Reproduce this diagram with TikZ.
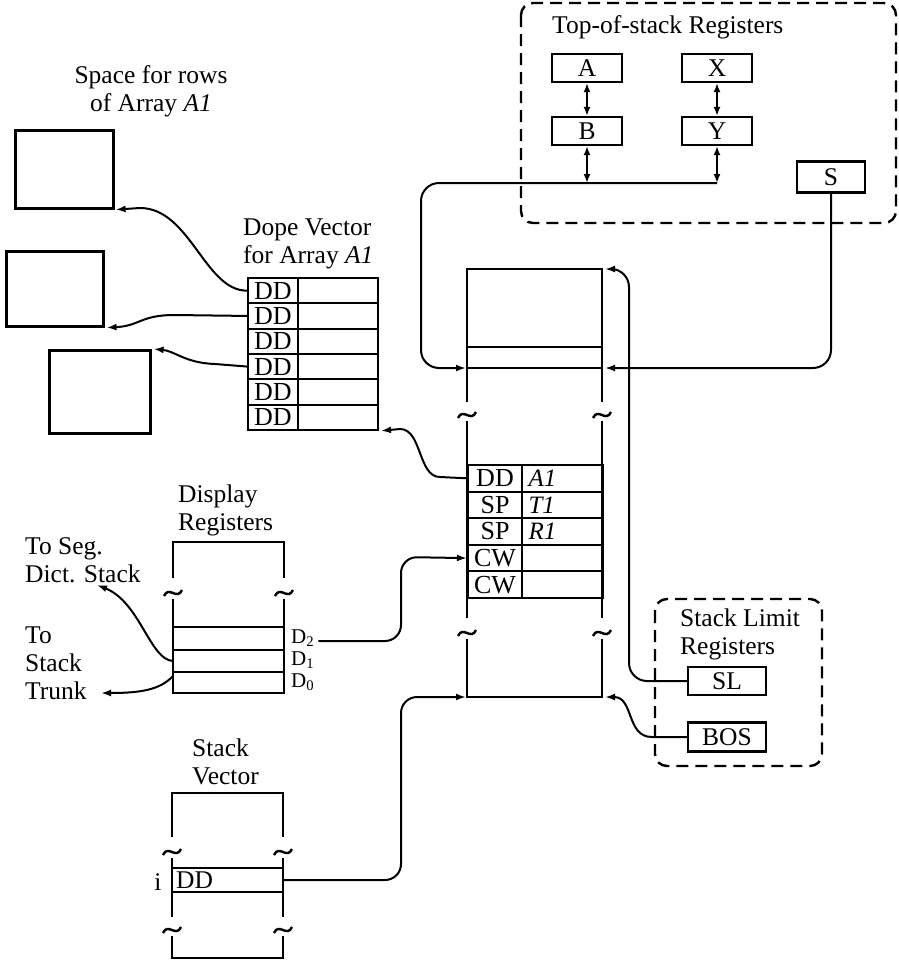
\documentclass[tikz,border=0pt]{standalone}
\usepackage{fontspec}
\setmainfont{Liberation Serif}
\usepackage{tikz}
\usetikzlibrary{arrows.meta,positioning,calc}

\begin{document}
\begin{tikzpicture}[x=1pt,y=-1pt,
  font=\fontsize{25.5}{28}\selectfont,
  reg/.style={draw, line width=2.2pt, inner sep=0pt, minimum width=70pt, minimum height=28pt},
  grp/.style={draw, dash pattern=on 12pt off 7pt, line width=2.4pt, rounded corners=12pt},
  wall/.style={line width=2.6pt},
  slot/.style={draw, line width=2pt, inner sep=0pt, anchor=north west, font=\fontsize{26}{26}\selectfont},
  link/.style={line width=2pt, -{Latex[length=10pt,width=7pt]}},
  both/.style={line width=2pt, {Latex[length=9pt,width=7pt]}-{Latex[length=9pt,width=7pt]}},
  lbl/.style={inner sep=0pt, align=left, anchor=west},
  dreg/.style={inner sep=0pt, anchor=west, font=\fontsize{21}{22}\selectfont},
  brk/.pic={\draw[line width=2.4pt] (-9,3) .. controls (-4,-8) and (4,8) .. (9,-3);}]

\useasboundingbox (0,0) rectangle (898,962);

% ===== top-of-stack registers =====
\draw[grp] (521,3) rectangle (896,223);
\node[inner sep=0pt, anchor=base west] (tosT) at (552,33) {Top-of-stack Registers};
\node[reg] (A) at (587,68) {A};
\node[reg] (X) at (717,68) {X};
\node[reg] (B) at (587,131) {B};
\node[reg] (Y) at (717,131) {Y};
\node[reg, minimum width=68pt, minimum height=31pt] (S) at (831,177) {S};
\coordinate (bus) at (587,183);
\draw[both] (A) -- (B);
\draw[both] (X) -- (Y);
\draw[both] (B.south) -- (B.south |- bus);
\draw[both] (Y.south) -- (Y.south |- bus);

% ===== the stack itself =====
\coordinate (topR) at (605,269);
\coordinate (slotL) at (466,368);
\coordinate (slotR) at (605,368);
\coordinate (botL) at (466,697);
\coordinate (botR) at (605,697);
\draw[wall] (467,402) -- (467,269) -- (602,269) -- (602,402);
\draw[wall] (467,347) -- (602,347);
\draw[wall] (467,368) -- (602,368);
\pic at (467,415) {brk};
\pic at (602,415) {brk};
\draw[wall] (467,421) -- (467,618);
\draw[wall] (602,421) -- (602,618);
\foreach \t/\v [count=\i] in {DD/A1,SP/T1,SP/R1,CW/,CW/} {
  \node[slot, minimum width=54pt, minimum height=26.6pt] (st\i) at (467,{464+26.6*(\i-1)}) {\t};
  \node[slot, minimum width=81pt, minimum height=26.6pt, text width=68pt, align=left, font=\fontsize{25}{26}\selectfont\itshape] (sv\i) at (521,{464+26.6*(\i-1)}) {\v};
}
\pic at (467,633) {brk};
\pic at (602,633) {brk};
\draw[wall] (467,639) -- (467,697) -- (602,697) -- (602,639);

\draw[link, rounded corners=18pt] (Y.south |- bus) -- (421,183) -- (421,368) -- (slotL);
\draw[link, rounded corners=18pt] (S.south) -- (S.south |- slotR) -- (slotR);

% ===== stack limit registers =====
\draw[grp] (655,599) rectangle (822,766);
\node[lbl] (limT) at (680,634) {Stack Limit\\Registers};
\node[reg, minimum width=78pt] (SL) at (727,681) {SL};
\node[reg, minimum width=78pt, minimum height=29pt] (BOS) at (727,737) {BOS};
\draw[link, rounded corners=18pt] (SL.west) -- (629,681) -- (629,269) -- (topR);
\draw[link] (BOS.west) -- (652,737) .. controls (626,737) and (634,697) .. (botR);

% ===== dope vector and rows =====
\node[inner sep=0pt, align=center] (rowT) at (151,91) {Space for rows\\of Array \textit{A1}};
\node[draw, wall, anchor=north west, minimum width=98pt, minimum height=78pt] (row1) at (14,129) {};
\node[draw, wall, anchor=north west, minimum width=97pt, minimum height=75pt] (row2) at (5,250) {};
\node[draw, wall, anchor=north west, minimum width=101pt, minimum height=83pt] (row3) at (48,349) {};

\node[lbl] (dopeT) at (243,244) {Dope Vector\\for Array \textit{A1}};
\foreach \i in {1,...,6} {
  \node[slot, minimum width=50pt, minimum height=25.3pt] (dv\i) at (247,{277+25.3*(\i-1)}) {DD};
  \node[slot, minimum width=80pt, minimum height=25.3pt] (dw\i) at (297,{277+25.3*(\i-1)}) {};
}
\draw[link] (dv1.west) .. controls (205,291) and (190,208) .. (140,208) -- ($(row1.south east)+(1,0)$);
\draw[link] (dv2.west) -- (175,315) .. controls (140,315) and (140,326) .. ($(row2.south east)+(2,0)$);
\draw[link] (dv4.west) -- (215,364) .. controls (185,363) and (175,351) .. ($(row3.north east)+(2,0)$);
\draw[link] (st1.west) -- (440,477) .. controls (418,477) and (422,429) .. (400,429) -- ($(dw6.south east)+(2,0)$);

% ===== display registers =====
\node[lbl] (dispT) at (178,510) {Display\\Registers};
\draw[wall] (173,578) -- (173,542) -- (284,542) -- (284,578);
\pic at (173,593) {brk};
\pic at (284,593) {brk};
\draw[wall] (173,599) -- (173,693) -- (284,693) -- (284,599);
\draw[wall] (173,627) -- (284,627);
\draw[wall] (173,650) -- (284,650);
\draw[wall] (173,672) -- (284,672);
\node[dreg] (D2) at (291,638) {D\textsubscript{2}};
\node[dreg] (D1) at (291,660) {D\textsubscript{1}};
\node[dreg] (D0) at (291,682) {D\textsubscript{0}};
\coordinate (d1w) at (173,661);
\coordinate (d0w) at (173,676);

\node[lbl] (seg) at (25,560) {To Seg.\\Dict. Stack};
\node[lbl] (trunk) at (25,663) {To\\Stack\\Trunk};
\coordinate (segTip) at (97,585);
\coordinate (trunkTip) at (101,693);
\draw[link] (d1w) .. controls (150,660) and (140,602) .. (segTip);
\draw[link] (d0w) .. controls (160,690) and (140,693) .. (trunkTip);
\draw[link, rounded corners=16pt] (D2.east) ++(4,3) -| (401,557) -- (st4.west);

% ===== stack vector =====
\node[lbl] (svT) at (192,762) {Stack\\Vector};
\draw[wall] (172,837) -- (172,793) -- (283,793) -- (283,837);
\pic at (172,852) {brk};
\pic at (283,852) {brk};
\draw[wall] (172,858) -- (172,917);
\draw[wall] (283,858) -- (283,917);
\draw[wall] (172,868) -- (283,868);
\draw[wall] (172,892) -- (283,892);
\node[inner sep=0pt] (iLbl) at (158,882) {i};
\node[lbl] (svDD) at (176,880) {DD};
\coordinate (svi) at (283,880);
\pic at (172,930) {brk};
\pic at (283,930) {brk};
\draw[wall] (172,936) -- (172,958) -- (283,958) -- (283,936);
\draw[link, rounded corners=16pt] (svi) -| (401,697) -- (botL);

\end{tikzpicture}
\end{document}
